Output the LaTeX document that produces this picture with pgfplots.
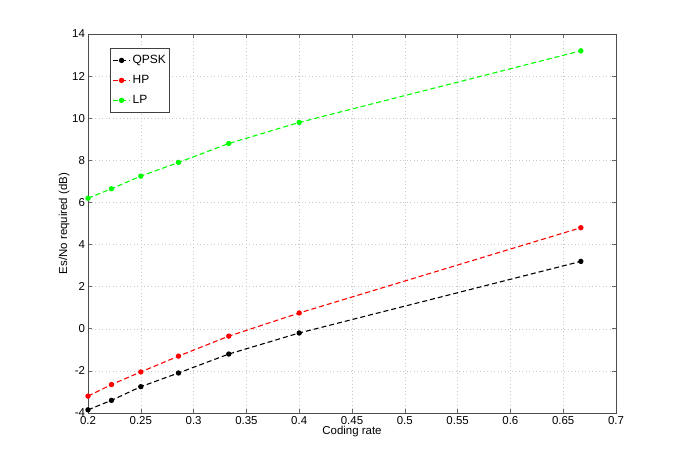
\documentclass[border=0pt]{standalone}
\usepackage{fontspec}
\setmainfont{Liberation Sans}
\usepackage{pgfplots}
\pgfplotsset{compat=1.18}

\begin{document}
\begin{tikzpicture}
\fontsize{11.5}{13}\selectfont
% frame of the whole figure, MATLAB-like margins
\path[use as bounding box] (-88bp,-52bp) rectangle (593bp,413bp);
\begin{axis}[
    at={(0,0)}, anchor=south west,
    scale only axis,
    width=528bp, height=379bp,
    xmin=0.2, xmax=0.7,
    ymin=-4, ymax=14,
    xtick={0.2,0.25,...,0.7},
    ytick={-4,-2,...,14},
    xticklabels={0.2,0.25,0.3,0.35,0.4,0.45,0.5,0.55,0.6,0.65,0.7},
    yticklabels={-4,-2,0,2,4,6,8,10,12,14},
    tick align=inside,
    major tick length=4bp,
    tick style={black!60, line width=0.6pt},
    axis line style={black!70, line width=0.7pt},
    grid=major,
    grid style={dash pattern=on 1bp off 2.5bp, black!22, line width=0.5pt},
    xlabel={Coding rate},
    ylabel={Es/No required (dB)},
    xlabel style={yshift=6bp},
    ylabel style={yshift=-5bp},
    xticklabel style={yshift=1bp},
    yticklabel style={xshift=1bp},
    legend style={
        at={(0.042,0.963)}, anchor=north west,
        draw=black!75, line width=0.7pt, fill=white,
        row sep=6bp, inner xsep=2bp, inner ysep=5bp,
        legend cell align=left,
        font=\fontsize{12}{14}\selectfont,
    },
    legend image code/.code={
        \draw[#1, mark repeat=2, mark phase=2]
            plot coordinates {(0cm,0cm) (0.3cm,0cm) (0.6cm,0cm)};
    },
    every axis plot/.append style={line width=1.1pt, dash pattern=on 5bp off 3bp,
        mark=*, mark size=2.1bp, mark options={solid}},
]
\addplot[black] coordinates {
(0.2000,-3.85) (0.2222,-3.40) (0.2500,-2.75) (0.2857,-2.10)
(0.3333,-1.20) (0.4000,-0.20) (0.6667,3.20)
};
\addlegendentry{QPSK}
\addplot[red] coordinates {
(0.2000,-3.20) (0.2222,-2.65) (0.2500,-2.05) (0.2857,-1.30)
(0.3333,-0.35) (0.4000,0.75) (0.6667,4.80)
};
\addlegendentry{HP}
\addplot[green] coordinates {
(0.2000,6.20) (0.2222,6.65) (0.2500,7.25) (0.2857,7.90)
(0.3333,8.80) (0.4000,9.80) (0.6667,13.20)
};
\addlegendentry{LP}
\end{axis}
\end{tikzpicture}
\end{document}
